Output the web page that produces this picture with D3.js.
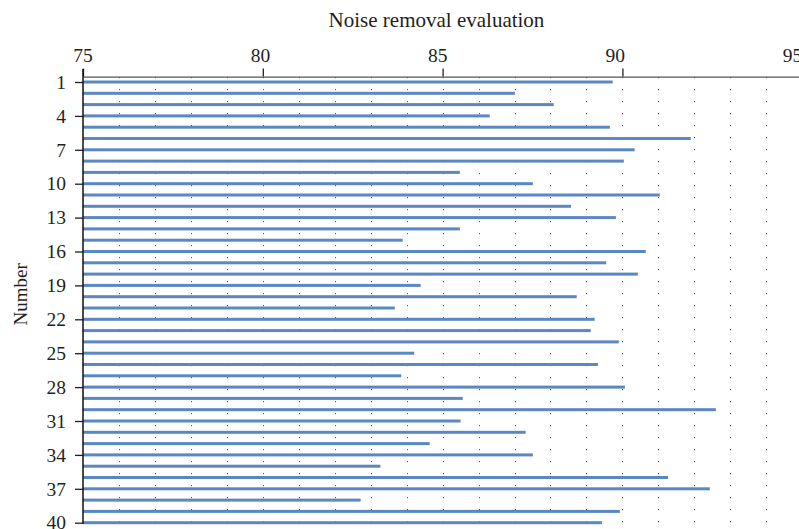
<!DOCTYPE html>
<html>
<head>
<meta charset="utf-8">
<script src="https://cdn.jsdelivr.net/npm/d3@7"></script>
<style>
  html, body { margin: 0; padding: 0; background: #fff; }
  svg { display: block; }
  text { font-family: "Liberation Serif", "Times New Roman", serif; fill: #231f20; }
</style>
</head>
<body>
<svg id="chart" width="799" height="529"></svg>
<script>
// Sample numbers (1..40) and their noise removal evaluation scores
const numbers = d3.range(1, 41);
const scores = [
  89.73, 87.01, 88.09, 86.31, 89.65, 91.90, 90.34, 90.04, 85.48, 87.51,
  91.04, 88.57, 89.82, 85.48, 83.89, 90.65, 89.55, 90.43, 84.39, 88.73,
  83.67, 89.23, 89.12, 89.90, 84.21, 89.32, 83.85, 90.07, 85.56, 92.60,
  85.50, 87.31, 84.64, 87.51, 83.27, 91.27, 92.43, 82.72, 89.93, 89.43
];
const xTicks = [75, 80, 85, 90, 95];
const yTicks = [1, 4, 7, 10, 13, 16, 19, 22, 25, 28, 31, 34, 37, 40];
const gridValues = d3.range(76, 96);
const titleText = "Noise removal evaluation";
const yTitleText = "Number";

const svg = d3.select("#chart");
svg.append("rect").attr("width", 799).attr("height", 529).attr("fill", "#fff");

const x = d3.scaleLinear().domain([75, 95]).range([83, 802.2]);
const y = d3.scalePoint().domain(numbers).range([76.35, 528.35]).padding(0.5);
// tick labels sit on a slightly tighter spacing than the ticks themselves
const xLabel = d3.scaleLinear().domain([75, 95]).range([82.5, 792]);

const axisY = 76.6;
const plotBottom = 524;

// dotted vertical grid
svg.append("g")
  .selectAll("line")
  .data(gridValues)
  .join("line")
  .attr("x1", d => Math.round(x(d)) + 0.5)
  .attr("x2", d => Math.round(x(d)) + 0.5)
  .attr("y1", 77)
  .attr("y2", plotBottom)
  .attr("stroke", "#555")
  .attr("stroke-width", 1)
  .attr("stroke-dasharray", "1.2 10.8");

// bars
const barH = 3;
svg.append("g")
  .selectAll("rect")
  .data(numbers)
  .join("rect")
  .attr("x", x(75))
  .attr("y", d => y(d) - barH / 2)
  .attr("width", (d, i) => x(scores[i]) - x(75))
  .attr("height", barH)
  .attr("fill", "#5b87c4");

// top axis
const gx = svg.append("g")
  .attr("transform", `translate(0,${axisY})`)
  .call(d3.axisTop(x).tickValues(xTicks).tickSize(8).tickSizeOuter(0).tickPadding(7));
gx.select(".domain").attr("stroke", "#555").attr("stroke-width", 1.3);
gx.selectAll(".tick line").attr("stroke", "#231f20").attr("stroke-width", 1.3);
gx.selectAll(".tick text")
  .attr("font-size", 19.5)
  .attr("font-family", "Liberation Serif, serif")
  .attr("fill", "#231f20")
  .attr("x", d => xLabel(d) - x(d));

// left axis
const gy = svg.append("g")
  .attr("transform", `translate(${x(75)},0)`)
  .call(d3.axisLeft(y).tickValues(yTicks).tickSize(8).tickPadding(9));
gy.select(".domain").remove();
gy.selectAll(".tick line").attr("stroke", "#231f20").attr("stroke-width", 1.3);
gy.selectAll(".tick text")
  .attr("font-size", 19.5)
  .attr("font-family", "Liberation Serif, serif")
  .attr("fill", "#231f20");
gy.append("line")
  .attr("x1", 0).attr("x2", 0)
  .attr("y1", 69).attr("y2", plotBottom)
  .attr("stroke", "#111")
  .attr("stroke-width", 1.5);

// titles
svg.append("text")
  .attr("x", 436.5)
  .attr("y", 26.7)
  .attr("text-anchor", "middle")
  .attr("font-size", 21)
  .text(titleText);

svg.append("text")
  .attr("transform", "translate(27.3,294.3) rotate(-90)")
  .attr("text-anchor", "middle")
  .attr("font-size", 19)
  .text(yTitleText);
</script>
</body>
</html>
